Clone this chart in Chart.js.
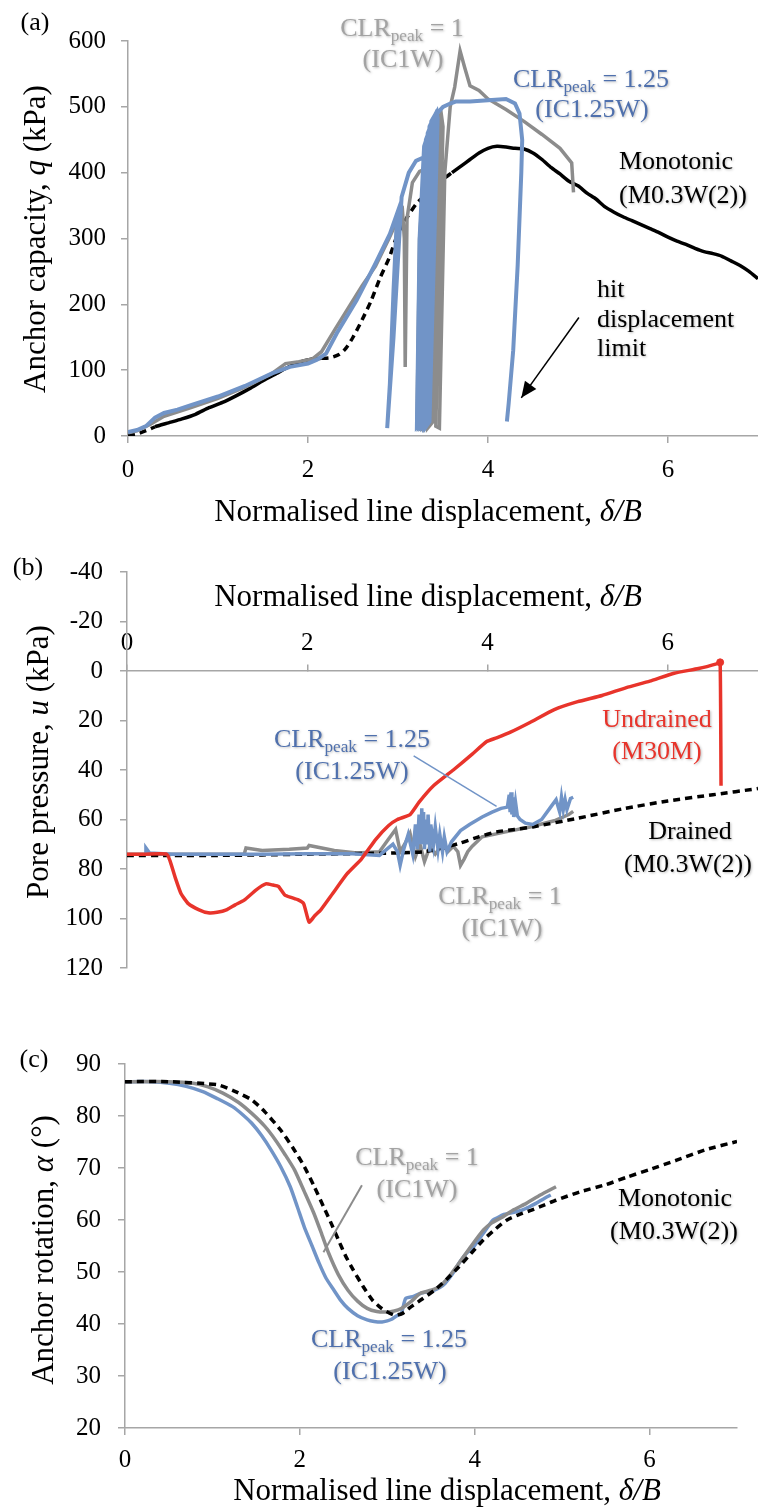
<!DOCTYPE html>
<html>
<head>
<meta charset="utf-8">
<script src="https://cdn.jsdelivr.net/npm/chart.js@4.4.1/dist/chart.umd.min.js"></script>
<style>
html,body{margin:0;padding:0;background:#fff;}
#wrap{position:relative;width:758px;height:1511px;overflow:hidden;background:#fff;}
canvas{position:absolute;left:0;}
</style>
</head>
<body>
<div id="wrap">
<canvas id="ca" width="758" height="540" style="top:0px"></canvas>
<canvas id="cb" width="758" height="460" style="top:540px"></canvas>
<canvas id="cc" width="758" height="511" style="top:1000px"></canvas>
</div>
<script>
// ---------------- DATA ----------------
const xTicks = [0, 2, 4, 6];
const yTicksA = [0, 100, 200, 300, 400, 500, 600];
const yTicksB = [-40, -20, 0, 20, 40, 60, 80, 100, 120];
const yTicksC = [20, 30, 40, 50, 60, 70, 80, 90];

// Panel (a): anchor capacity q (kPa) vs normalised line displacement
const aMonoX = [0, 0.1, 0.2, 0.3, 0.45, 0.6, 0.75, 0.9, 1.05, 1.2, 1.35, 1.5, 1.65, 1.8, 1.95, 2.05, 2.15, 2.25, 2.35, 2.42, 2.5, 2.6, 2.7, 2.8, 2.9, 3.0, 3.1, 3.2, 3.3, 3.4, 3.5, 3.6, 3.7, 3.8, 3.9, 4.0, 4.1, 4.2, 4.3, 4.4, 4.5, 4.6, 4.7, 4.8, 4.9, 5.0, 5.1, 5.2, 5.3, 5.4, 5.5, 5.6, 5.7, 5.8, 5.9, 6.0, 6.1, 6.2, 6.3, 6.4, 6.5, 6.6, 6.7, 6.8, 6.9, 7.0];
const aMonoQ = [1, 3, 8, 14, 20, 26, 33, 43, 51, 61, 72, 84, 95, 106, 114, 117, 118, 119, 124, 133, 150, 176, 205, 240, 270, 308, 332, 352, 366, 376, 390, 400, 410, 420, 430, 437, 440, 439, 437, 436, 430, 420, 408, 398, 387, 380, 369, 360, 348, 340, 333, 327, 321, 315, 309, 302, 296, 291, 285, 280, 277, 273, 266, 259, 250, 239];

const aIC1X = [0, 0.1, 0.25, 0.4, 0.7, 1.0, 1.3, 1.6, 1.75, 1.9, 2.05, 2.15, 2.3, 2.45, 2.6, 2.75, 2.9, 3.0, 3.05, 3.07, 3.08, 3.1, 3.16, 3.24, 3.31, 3.34, 3.27, 3.21, 3.24, 3.3, 3.36, 3.39, 3.29, 3.23, 3.26, 3.32, 3.38, 3.41, 3.31, 3.25, 3.28, 3.34, 3.41, 3.44, 3.33, 3.27, 3.3, 3.37, 3.43, 3.46, 3.36, 3.3, 3.33, 3.4, 3.46, 3.48, 3.39, 3.33, 3.36, 3.43, 3.48, 3.5, 3.42, 3.46, 3.52, 3.58, 3.63, 3.69, 3.74, 3.8, 3.9, 4.0, 4.2, 4.4, 4.6, 4.8, 4.93, 4.95];
const aIC1Q = [5, 8, 18, 30, 43, 57, 74, 95, 110, 113, 117, 128, 162, 195, 228, 258, 300, 330, 342, 300, 105, 330, 385, 402, 406, 380, 15, 12, 300, 425, 445, 430, 18, 12, 310, 440, 458, 450, 18, 12, 320, 450, 468, 460, 20, 12, 340, 460, 478, 470, 22, 12, 350, 468, 485, 476, 22, 12, 360, 475, 490, 470, 15, 12, 400, 500, 530, 585, 560, 532, 525, 512, 496, 478, 458, 437, 415, 370];

const aIC125X = [0, 0.1, 0.2, 0.3, 0.4, 0.55, 0.7, 1.0, 1.3, 1.6, 1.8, 2.0, 2.1, 2.2, 2.32, 2.54, 2.75, 2.91, 2.99, 2.95, 2.91, 2.88, 2.95, 3.04, 3.12, 3.2, 3.28, 3.32, 3.3, 3.25, 3.21, 3.24, 3.29, 3.35, 3.36, 3.27, 3.23, 3.26, 3.31, 3.37, 3.38, 3.29, 3.25, 3.28, 3.33, 3.39, 3.4, 3.31, 3.27, 3.3, 3.35, 3.41, 3.42, 3.33, 3.29, 3.32, 3.37, 3.43, 3.44, 3.35, 3.31, 3.34, 3.42, 3.5, 3.58, 3.64, 3.8, 4.0, 4.2, 4.3, 4.35, 4.38, 4.37, 4.33, 4.28, 4.23, 4.21];
const aIC125Q = [6, 9, 15, 28, 35, 40, 47, 60, 76, 95, 105, 110, 116, 125, 156, 206, 262, 307, 338, 220, 80, 12, 150, 363, 400, 418, 423, 418, 380, 20, 14, 300, 440, 465, 455, 20, 14, 330, 450, 472, 465, 20, 14, 340, 460, 480, 470, 20, 14, 350, 470, 487, 478, 22, 14, 360, 478, 492, 482, 22, 14, 380, 488, 500, 505, 508, 508, 510, 512, 505, 490, 450, 400, 260, 130, 50, 22];

// Panel (b): pore pressure u (kPa)
const bUndX = [0, 0.2, 0.44, 0.48, 0.54, 0.6, 0.68, 0.8, 0.9, 1.0, 1.11, 1.2, 1.3, 1.43, 1.54, 1.62, 1.68, 1.75, 1.82, 1.9, 1.96, 2.02, 2.08, 2.15, 2.28, 2.44, 2.6, 2.76, 2.9, 3.0, 3.14, 3.24, 3.4, 3.62, 3.83, 3.99, 4.1, 4.26, 4.47, 4.74, 5.0, 5.27, 5.54, 5.8, 6.07, 6.34, 6.55, 6.58, 6.59];
const bUndU = [74, 74, 74, 77, 84, 90, 94, 96.5, 97.7, 97.5, 96.4, 94.5, 92.6, 88.5, 86, 86.5, 87, 90.5, 91.5, 92.5, 94, 101.5, 99, 96.5, 90, 82, 76, 68, 62.5, 60, 58, 53, 46.4, 40, 33.6, 28.5, 27, 24.6, 20.8, 15.6, 12.4, 9.9, 6.7, 4.1, 0.9, -1, -3, -3.5, 46.4];

const bDrX = [0, 0.5, 1, 1.5, 2, 2.5, 3, 3.3, 3.5, 3.7, 3.9, 4.1, 4.3, 4.5, 5, 5.5, 6, 6.5, 7];
const bDrU = [74.5, 74.5, 74.5, 74.3, 74, 73.8, 73.5, 73, 71.5, 69.5, 67, 65, 64, 63, 59.5, 55.7, 52.5, 50, 47.5];

const bIC125X = [0.2, 0.21, 0.25, 0.5, 1, 1.5, 2, 2.5, 2.8, 2.95, 3.0, 3.03, 3.07, 3.12, 3.17, 3.2, 3.22, 3.24, 3.26, 3.27, 3.28, 3.29, 3.3, 3.31, 3.33, 3.34, 3.36, 3.37, 3.4, 3.42, 3.45, 3.47, 3.5, 3.52, 3.55, 3.6, 3.7, 3.8, 3.94, 4.05, 4.15, 4.22, 4.24, 4.25, 4.26, 4.27, 4.28, 4.29, 4.31, 4.33, 4.36, 4.42, 4.5, 4.6, 4.7, 4.76, 4.8, 4.82, 4.84, 4.86, 4.88, 4.92, 4.95];
const bIC125U = [74, 71.5, 73.5, 74, 74, 74, 73.8, 73.8, 74.5, 70, 73, 78.5, 72, 66, 74, 62, 72, 58, 70, 55.5, 66, 57, 72, 60, 70, 58, 73, 62, 70, 63, 72, 66, 73, 67, 73, 69, 64.5, 62, 59, 57, 55.5, 55, 50, 57, 49, 58, 51, 59, 53, 58.5, 60, 61.5, 62, 60, 55, 52, 57, 51, 56, 52, 56, 51.5, 51];

const bIC1X = [0, 1.3, 1.32, 1.5, 1.8, 2.0, 2.02, 2.3, 2.55, 2.8, 2.9, 2.98, 3.03, 3.08, 3.14, 3.2, 3.25, 3.3, 3.36, 3.42, 3.5, 3.56, 3.62, 3.67, 3.7, 3.74, 3.78, 3.83, 3.94, 4.2, 4.47, 4.74, 4.9, 4.95];
const bIC1U = [74, 74, 71.5, 72.5, 72, 71.5, 70.5, 72.5, 73.5, 73, 68, 64, 73, 70, 65.6, 75, 70, 77, 71, 74, 70, 73, 70.8, 73, 78.5, 76, 73, 70.8, 67, 65, 63, 60.5, 58, 56.7];

// Panel (c): anchor rotation alpha (deg)
const cIC125X = [0, 0.3, 0.51, 0.7, 0.89, 1.05, 1.23, 1.35, 1.45, 1.56, 1.67, 1.78, 1.89, 1.97, 2.05, 2.14, 2.22, 2.3, 2.39, 2.47, 2.55, 2.66, 2.77, 2.85, 2.94, 3.0, 3.05, 3.1, 3.16, 3.21, 3.3, 3.38, 3.46, 3.54, 3.6, 3.66, 3.74, 3.82, 3.9, 3.99, 4.1, 4.21, 4.27, 4.32, 4.45, 4.54, 4.62, 4.7, 4.8, 4.87];
const cIC125A = [86.6, 86.6, 86.3, 85.7, 84.7, 83.4, 81.8, 80.2, 78.6, 76.3, 73.5, 70.3, 66.4, 62.6, 58.7, 55, 51.7, 48.8, 46.5, 44.5, 43, 41.6, 40.8, 40.5, 40.4, 40.6, 40.9, 41.5, 42, 44.9, 45.3, 45.9, 46.2, 46.5, 47, 47.8, 49.5, 51.7, 53.5, 54.9, 57.5, 60, 60.5, 61, 61.5, 61.9, 62.5, 63.2, 64.2, 64.8];

const cIC1X = [0, 0.5, 0.78, 0.95, 1.12, 1.3, 1.45, 1.6, 1.72, 1.83, 1.94, 2.05, 2.16, 2.25, 2.33, 2.44, 2.55, 2.66, 2.77, 2.88, 2.99, 3.08, 3.16, 3.27, 3.38, 3.5, 3.6, 3.7, 3.82, 3.96, 4.1, 4.2, 4.32, 4.45, 4.59, 4.75, 4.93];
const cIC1A = [86.6, 86.6, 86.3, 85.6, 84.4, 82.6, 80.5, 78, 75.4, 72.6, 69.6, 65.5, 61.3, 57.3, 53.6, 49.5, 46.5, 44.4, 43, 42.4, 42.3, 42.5, 43, 44.3, 45.9, 46.5, 47.2, 49, 51.7, 55, 58.1, 59.5, 60.6, 62, 63.2, 64.8, 66.4];

const cMonoX = [0, 0.5, 1.06, 1.25, 1.45, 1.6, 1.78, 1.92, 2.05, 2.16, 2.27, 2.36, 2.44, 2.52, 2.61, 2.72, 2.83, 2.92, 2.99, 3.08, 3.17, 3.27, 3.4, 3.54, 3.68, 3.82, 3.96, 4.1, 4.24, 4.37, 4.5, 4.65, 4.8, 4.93, 5.2, 5.5, 5.75, 6.0, 6.31, 6.64, 7.0];
const cMonoA = [86.6, 86.6, 86, 84.8, 83.1, 80.8, 77.3, 73.9, 70.3, 66.6, 62.6, 59.3, 56.2, 53.2, 50.4, 47.3, 44.6, 43.2, 42.4, 41.7, 42, 43.3, 44.8, 46.5, 48.6, 51, 53.6, 56.2, 58.3, 60, 61, 61.9, 62.9, 63.8, 65.4, 66.8, 68.3, 69.7, 71.5, 73.5, 75.1];

// ---------------- STYLE ----------------
const FAMILY = '"Liberation Serif", "Times New Roman", serif';
const BLUE = '#7194c7', GRAY = '#8c8c8c', RED = '#e8342b', BLACK = '#000000';
const GRAY_T = '#a3a3a3', BLUE_T = '#4f70ad';
const AXIS = '#a6a6a6';
Chart.defaults.font.family = FAMILY;
Chart.defaults.color = '#000';

const pts = (xs, ys) => xs.map((x, i) => ({x: x, y: ys[i]}));

function fnt(size, it) { return (it ? 'italic ' : '') + size + 'px ' + FAMILY; }
function richWidth(ctx, parts, size) {
  let w = 0;
  for (const p of parts) { ctx.font = fnt(p.sub ? size * 0.66 : size, p.it); w += ctx.measureText(p.t).width; }
  return w;
}
function drawRich(ctx, parts, x, y, size, color, align, shadow) {
  ctx.save();
  ctx.fillStyle = color;
  ctx.textBaseline = 'middle';
  ctx.textAlign = 'left';
  if (shadow) { ctx.shadowColor = 'rgba(0,0,0,0.28)'; ctx.shadowBlur = 2.5; ctx.shadowOffsetX = 1; ctx.shadowOffsetY = 1; }
  const w = richWidth(ctx, parts, size);
  let cx = align === 'left' ? x : x - w / 2;
  for (const p of parts) {
    const s = p.sub ? size * 0.66 : size;
    ctx.font = fnt(s, p.it);
    ctx.fillText(p.t, cx, y + (p.sub ? size * 0.3 : 0));
    cx += ctx.measureText(p.t).width;
  }
  ctx.restore();
}
function drawRotated(ctx, parts, x, y, size, color) {
  ctx.save();
  ctx.translate(x, y);
  ctx.rotate(-Math.PI / 2);
  drawRich(ctx, parts, 0, 0, size, color, 'center', false);
  ctx.restore();
}
function line(ctx, chart, x0, y0, x1, y1, color, width, arrow) {
  const sx = chart.scales.x, sy = chart.scales.y;
  const X0 = sx.getPixelForValue(x0), Y0 = sy.getPixelForValue(y0);
  const X1 = sx.getPixelForValue(x1), Y1 = sy.getPixelForValue(y1);
  ctx.save();
  ctx.strokeStyle = color; ctx.fillStyle = color; ctx.lineWidth = width;
  ctx.beginPath(); ctx.moveTo(X0, Y0); ctx.lineTo(X1, Y1); ctx.stroke();
  if (arrow) {
    const ang = Math.atan2(Y1 - Y0, X1 - X0), L = 16, W = 7;
    ctx.beginPath();
    ctx.moveTo(X1, Y1);
    ctx.lineTo(X1 - L * Math.cos(ang) + W * Math.sin(ang), Y1 - L * Math.sin(ang) - W * Math.cos(ang));
    ctx.lineTo(X1 - L * Math.cos(ang) - W * Math.sin(ang), Y1 - L * Math.sin(ang) + W * Math.cos(ang));
    ctx.closePath(); ctx.fill();
  }
  ctx.restore();
}

const XTITLE = [{t: 'Normalised line displacement, '}, {t: 'δ/B', it: true}];
const CLR1 = [{t: 'CLR'}, {t: 'peak', sub: true}, {t: ' = 1'}];
const CLR125 = [{t: 'CLR'}, {t: 'peak', sub: true}, {t: ' = 1.25'}];
const T = (s) => [{t: s}];
const LBL = 26, TTL = 31, TICK = 25;

function axisCommon(extra) {
  return Object.assign({
    type: 'linear',
    grid: {drawOnChartArea: false, tickLength: 7, color: AXIS, lineWidth: 1.5},
    border: {color: AXIS, width: 1.5},
  }, extra);
}
const baseOpts = {
  responsive: false,
  animation: false,
  plugins: {legend: {display: false}, tooltip: {enabled: false}},
  elements: {point: {radius: 0}, line: {borderWidth: 3.5}},
};

// ---------------- PANEL (a) ----------------
new Chart(document.getElementById('ca'), {
  type: 'scatter',
  data: {
    datasets: [
      {data: pts(aIC125X, aIC125Q), showLine: true, borderColor: BLUE, tension: 0, borderWidth: 4},
      {data: pts(aIC1X, aIC1Q), showLine: true, borderColor: GRAY, tension: 0, borderWidth: 3.5},
      {data: pts(aMonoX, aMonoQ), showLine: true, borderColor: BLACK, tension: 0.2, borderWidth: 3.5,
       segment: {borderDash: c => { const x = c.p0.parsed.x; return (x < 0.3 || (x >= 2.1 && x < 3.6)) ? [7, 5] : undefined; }}}
    ]
  },
  options: Object.assign({}, baseOpts, {
    layout: {padding: {top: 41, left: 0, right: 0, bottom: 0}},
    scales: {
      x: axisCommon({min: 0, max: 7, position: 'bottom',
        ticks: {stepSize: 2, includeBounds: false, padding: 12, font: {size: TICK}, color: '#000'},
        afterFit: s => { s.height = 104; }}),
      y: axisCommon({min: 0, max: 600, position: 'left',
        ticks: {stepSize: 100, padding: 15, font: {size: TICK}, color: '#000'},
        afterFit: s => { s.width = 128; }})
    }
  }),
  plugins: [{
    id: 'annA',
    afterDraw(chart) {
      const ctx = chart.ctx;
      drawRich(ctx, T('(a)'), 35, 23, LBL, '#000', 'center', false);
      drawRich(ctx, XTITLE, 428, 513, TTL, '#000', 'center', false);
      drawRotated(ctx, [{t: 'Anchor capacity, '}, {t: 'q', it: true}, {t: ' (kPa)'}], 37, 239, TTL, '#000');
      drawRich(ctx, CLR1, 402, 29, LBL, GRAY_T, 'center', true);
      drawRich(ctx, T('(IC1W)'), 403, 60, LBL, GRAY_T, 'center', true);
      drawRich(ctx, CLR125, 591, 80, LBL, BLUE_T, 'center', true);
      drawRich(ctx, T('(IC1.25W)'), 592, 110, LBL, BLUE_T, 'center', true);
      drawRich(ctx, T('Monotonic'), 676, 162, LBL, '#000', 'center', true);
      drawRich(ctx, T('(M0.3W(2))'), 683, 196, LBL, '#000', 'center', true);
      drawRich(ctx, T('hit'), 597, 290, LBL, '#000', 'left', true);
      drawRich(ctx, T('displacement'), 597, 320, LBL, '#000', 'left', true);
      drawRich(ctx, T('limit'), 597, 349, LBL, '#000', 'left', true);
      line(ctx, chart, 5.01, 180, 4.37, 58, '#000', 1.5, true);
    }
  }]
});

// ---------------- PANEL (b) ----------------
const redPeak = bUndU.indexOf(Math.min(...bUndU));
new Chart(document.getElementById('cb'), {
  type: 'scatter',
  data: {
    datasets: [
      {data: pts(bUndX, bUndU), showLine: true, borderColor: RED, backgroundColor: RED, tension: 0.15,
       pointRadius: c => c.dataIndex === redPeak ? 3.5 : 0},
      {data: pts(bIC125X, bIC125U), showLine: true, borderColor: BLUE, tension: 0},
      {data: pts(bDrX, bDrU), showLine: true, borderColor: BLACK, borderDash: [7, 5], tension: 0.2, borderWidth: 3.5},
      {data: pts(bIC1X, bIC1U), showLine: true, borderColor: GRAY, tension: 0}
    ]
  },
  options: Object.assign({}, baseOpts, {
    layout: {padding: {top: 28, left: 0, right: 0, bottom: 14}},
    scales: {
      x: axisCommon({min: 0, max: 7, position: {y: 0},
        grid: {drawOnChartArea: false, tickLength: -7, color: AXIS, lineWidth: 1.5},
        ticks: {stepSize: 2, includeBounds: false, padding: -36, font: {size: TICK}, color: '#000'}}),
      y: axisCommon({min: -40, max: 120, reverse: true, position: 'left',
        ticks: {stepSize: 20, padding: 17, font: {size: TICK}, color: '#000'},
        afterFit: s => { s.width = 127; }})
    }
  }),
  plugins: [{
    id: 'annB',
    afterDraw(chart) {
      const ctx = chart.ctx;
      drawRich(ctx, T('(b)'), 28, 28, LBL, '#000', 'center', false);
      drawRich(ctx, XTITLE, 428, 58, TTL, '#000', 'center', false);
      drawRotated(ctx, [{t: 'Pore pressure, '}, {t: 'u', it: true}, {t: ' (kPa)'}], 40, 222, TTL, '#000');
      drawRich(ctx, CLR125, 352, 200, LBL, BLUE_T, 'center', true);
      drawRich(ctx, T('(IC1.25W)'), 352, 232, LBL, BLUE_T, 'center', true);
      drawRich(ctx, T('Undrained'), 657, 180, LBL, RED, 'center', true);
      drawRich(ctx, T('(M30M)'), 657, 212, LBL, RED, 'center', true);
      drawRich(ctx, T('Drained'), 690, 292, LBL, '#000', 'center', true);
      drawRich(ctx, T('(M0.3W(2))'), 688, 325, LBL, '#000', 'center', true);
      drawRich(ctx, CLR1, 500, 357, LBL, GRAY_T, 'center', true);
      drawRich(ctx, T('(IC1W)'), 502, 389, LBL, GRAY_T, 'center', true);
      line(ctx, chart, 3.18, 34.3, 4.1, 54.7, BLUE, 1.5, false);
    }
  }]
});

// ---------------- PANEL (c) ----------------
new Chart(document.getElementById('cc'), {
  type: 'scatter',
  data: {
    datasets: [
      {data: pts(cMonoX, cMonoA), showLine: true, borderColor: BLACK, borderDash: [7, 5], tension: 0.2, borderWidth: 3.5},
      {data: pts(cIC1X, cIC1A), showLine: true, borderColor: GRAY, tension: 0.2},
      {data: pts(cIC125X, cIC125A), showLine: true, borderColor: BLUE, tension: 0.2}
    ]
  },
  options: Object.assign({}, baseOpts, {
    layout: {padding: {top: 64, left: 0, right: 21, bottom: 0}},
    scales: {
      x: axisCommon({min: 0, max: 7, position: 'bottom',
        ticks: {stepSize: 2, includeBounds: false, padding: 10, font: {size: TICK}, color: '#000'},
        afterFit: s => { s.height = 83; }}),
      y: axisCommon({min: 20, max: 90, position: 'left',
        ticks: {stepSize: 10, padding: 17, font: {size: TICK}, color: '#000'},
        afterFit: s => { s.width = 125; }})
    }
  }),
  plugins: [{
    id: 'annC',
    afterDraw(chart) {
      const ctx = chart.ctx;
      drawRich(ctx, T('(c)'), 34, 60, LBL, '#000', 'center', false);
      drawRich(ctx, XTITLE, 447, 492, TTL, '#000', 'center', false);
      drawRotated(ctx, [{t: 'Anchor rotation, '}, {t: 'α', it: true}, {t: ' (°)'}], 45, 250, TTL, '#000');
      drawRich(ctx, CLR1, 417, 158, LBL, GRAY_T, 'center', true);
      drawRich(ctx, T('(IC1W)'), 417, 190, LBL, GRAY_T, 'center', true);
      drawRich(ctx, CLR125, 389, 340, LBL, BLUE_T, 'center', true);
      drawRich(ctx, T('(IC1.25W)'), 390, 372, LBL, BLUE_T, 'center', true);
      drawRich(ctx, T('Monotonic'), 675, 199, LBL, '#000', 'center', true);
      drawRich(ctx, T('(M0.3W(2))'), 674, 232, LBL, '#000', 'center', true);
      line(ctx, chart, 2.71, 66.7, 2.27, 53.8, GRAY, 2, false);
    }
  }]
});
</script>
</body>
</html>
